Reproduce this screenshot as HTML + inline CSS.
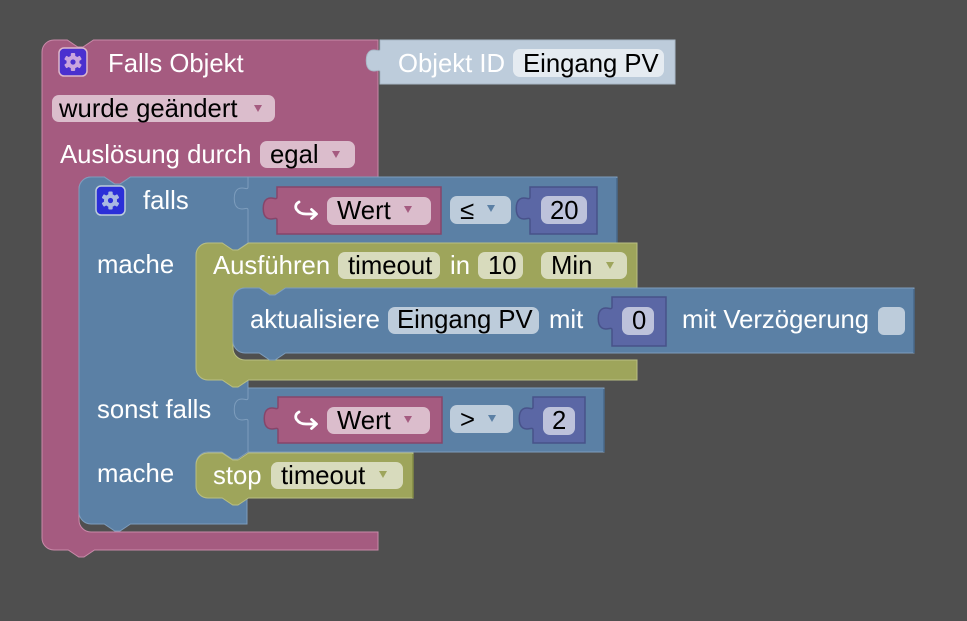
<!DOCTYPE html>
<html>
<head>
<meta charset="utf-8">
<style>
  html,body{margin:0;padding:0;background:#4f4f4f;}
  svg{display:block;}
  text{font-family:"Liberation Sans",Arial,sans-serif;font-size:25.7px;}
  .w{fill:#fff;}
  .b{fill:#000;}
</style>
</head>
<body>
<svg width="967" height="621" viewBox="0 0 967 621" xmlns="http://www.w3.org/2000/svg">
  <rect x="0" y="0" width="967" height="621" fill="#4f4f4f"/>

  <!-- Pink trigger C-block -->
  <path d="M42,52 A12,12 0 0 1 54,40 H67.25 l10.5,7 h5.25 l10.5,-7 H378 V177 H130.5 l-10.5,7 h-5.25 l-10.5,-7 H91 A12,12 0 0 0 79,189 V520 A12,12 0 0 0 91,532 H378 V550 H94.5 l-10.5,7 h-5.25 l-10.5,-7 H54 A12,12 0 0 1 42,538 Z"
        fill="#a55b80" stroke="#c98aa9" stroke-width="1"/>

  <!-- Objekt ID block -->
  <path d="M675,40 H380 V49 c0,4 -5,-1 -10,2 c-5,3 -5,16 0,19 c5,3 10,-2 10,2 V84 H675 Z"
        fill="#bdccdb" stroke="#a9b8c7" stroke-width="1"/>
  <rect x="513" y="49" width="151" height="28" rx="7" fill="#e5ebf1"/>
  <text x="398" y="72" class="w">Objekt ID</text>
  <text x="523" y="72" class="b">Eingang PV</text>

  <!-- Pink header content -->
  <rect x="59" y="48" width="28" height="28" rx="5" fill="#4a30cf" stroke="#dcb8cb" stroke-width="1.5"/>
  <g transform="translate(73,62)" fill="#c9a4de">
    <circle r="6.5"/>
    <rect x="-2.2" y="-9" width="4.4" height="18" rx="1"/>
    <rect x="-2.2" y="-9" width="4.4" height="18" rx="1" transform="rotate(60)"/>
    <rect x="-2.2" y="-9" width="4.4" height="18" rx="1" transform="rotate(120)"/>
    <circle r="2.6" fill="#4a30cf"/>
  </g>
  <text x="108" y="72" class="w">Falls Objekt</text>

  <rect x="52" y="95" width="223" height="27" rx="7" fill="#dbbdcc"/>
  <text x="59" y="117" class="b">wurde geändert</text>
  <polygon points="254,105 262,105 258,112" fill="#a55b80"/>

  <text x="60" y="163" class="w">Auslösung durch</text>
  <rect x="260" y="141" width="95" height="27" rx="7" fill="#dbbdcc"/>
  <text x="270" y="163" class="b">egal</text>
  <polygon points="332,151 340,151 336,158" fill="#a55b80"/>

  <!-- Blue falls / sonst falls block -->
  <path d="M79,189 A12,12 0 0 1 91,177 H104.25 l10.5,7 h5.25 l10.5,-7 H248 V243 l-10.5,7 h-5.25 l-10.5,-7 H208 A12,12 0 0 0 196,255 V368 A12,12 0 0 0 208,380 H248 V452 l-10.5,7 h-5.25 l-10.5,-7 H208 A12,12 0 0 0 196,464 V486 A12,12 0 0 0 208,498 H247 V524 H130.5 l-10.5,7 h-5.25 l-10.5,-7 H91 A12,12 0 0 1 79,512 Z"
        fill="#5b80a5" stroke="#7e9dbd" stroke-width="1"/>

  <rect x="96" y="186" width="29" height="29" rx="5" fill="#2b2fd8" stroke="#bdccdb" stroke-width="1.5"/>
  <g transform="translate(110.5,200.5)" fill="#a9b9e2">
    <circle r="6.5"/>
    <rect x="-2.2" y="-9" width="4.4" height="18" rx="1"/>
    <rect x="-2.2" y="-9" width="4.4" height="18" rx="1" transform="rotate(60)"/>
    <rect x="-2.2" y="-9" width="4.4" height="18" rx="1" transform="rotate(120)"/>
    <circle r="2.6" fill="#2b2fd8"/>
  </g>
  <text x="143" y="209" class="w">falls</text>
  <text x="97" y="273" class="w">mache</text>
  <text x="97" y="418" class="w">sonst falls</text>
  <text x="97" y="482" class="w">mache</text>

  <!-- Compare block 1 -->
  <path d="M617,177 H248 V187 c0,4 -5,-1 -10,2 c-5,3 -5,16 0,19 c5,3 10,-2 10,2 V243 H617 Z"
        fill="#5b80a5" stroke="#7e9dbd" stroke-width="1"/>
  <line x1="617" y1="178" x2="617" y2="243" stroke="#48698a" stroke-width="1.5"/>
  <!-- Wert block 1 -->
  <path d="M441,187 H277 V197 c0,4 -5,-1 -10,2 c-5,3 -5,16 0,19 c5,3 10,-2 10,2 V234 H441 Z"
        fill="#a55b80" stroke="#86456a" stroke-width="1.5"/>
  <path d="M299,202 C295,204 295,208 297,210 C299,213 302,214 306,214 H316" fill="none" stroke="#fff" stroke-width="2.8" stroke-linecap="round"/>
  <path d="M311.5,209.5 L316.5,214 L311.5,218.5" fill="none" stroke="#fff" stroke-width="2.8" stroke-linecap="round" stroke-linejoin="round"/>
  <rect x="327" y="197" width="104" height="28" rx="7" fill="#dbbdcc"/>
  <text x="337" y="219" class="b">Wert</text>
  <polygon points="404,206 412,206 408,213" fill="#a55b80"/>
  <!-- ≤ -->
  <rect x="450" y="196" width="61" height="28" rx="7" fill="#bdccdb"/>
  <text x="460" y="219" class="b">≤</text>
  <polygon points="487,205 495,205 491,212" fill="#5b80a5"/>
  <!-- 20 -->
  <path d="M597,187 H530 V197 c0,4 -5,-1 -10,2 c-5,3 -5,16 0,19 c5,3 10,-2 10,2 V234 H597 Z"
        fill="#5b67a5" stroke="#48528a" stroke-width="1.5"/>
  <rect x="541" y="196" width="46" height="28" rx="7" fill="#bdc2db"/>
  <text x="550" y="219" class="b">20</text>

  <!-- Green Ausführen block -->
  <path d="M196,255 A12,12 0 0 1 208,243 H222.25 l10.5,7 h5.25 l10.5,-7 H637 V288 H285.5 l-10.5,7 h-5.25 l-10.5,-7 H245 A12,12 0 0 0 233,300 V348 A12,12 0 0 0 245,360 H637 V380 H248.5 l-10.5,7 h-5.25 l-10.5,-7 H208 A12,12 0 0 1 196,368 Z"
        fill="#9ea55b" stroke="#b9bf83" stroke-width="1"/>
  <text x="213" y="274" class="w">Ausführen</text>
  <rect x="338" y="252" width="102" height="27" rx="7" fill="#d8dbbd"/>
  <text x="348" y="274" class="b">timeout</text>
  <text x="450" y="274" class="w">in</text>
  <rect x="478" y="252" width="45" height="27" rx="7" fill="#d8dbbd"/>
  <text x="488" y="274" class="b">10</text>
  <rect x="541" y="252" width="86" height="27" rx="7" fill="#d8dbbd"/>
  <text x="551" y="274" class="b">Min</text>
  <polygon points="606,262 614,262 610,269" fill="#9ea55b"/>

  <!-- Blue aktualisiere block -->
  <path d="M233,300 A12,12 0 0 1 245,288 H259.25 l10.5,7 h5.25 l10.5,-7 H914 V353 H285.5 l-10.5,7 h-5.25 l-10.5,-7 H245 A12,12 0 0 1 233,341 Z"
        fill="#5b80a5" stroke="#7e9dbd" stroke-width="1"/>
  <line x1="914" y1="289" x2="914" y2="353" stroke="#48698a" stroke-width="1.5"/>
  <text x="250" y="328" class="w">aktualisiere</text>
  <rect x="388" y="307" width="151" height="27" rx="7" fill="#bdccdb"/>
  <text x="397" y="328" class="b">Eingang PV</text>
  <text x="549" y="328" class="w">mit</text>
  <path d="M666,297 H612 V307 c0,4 -5,-1 -10,2 c-5,3 -5,16 0,19 c5,3 10,-2 10,2 V346 H666 Z"
        fill="#5b67a5" stroke="#48528a" stroke-width="1.5"/>
  <rect x="622" y="307" width="32" height="28" rx="7" fill="#bdc2db"/>
  <text x="632" y="329" class="b">0</text>
  <text x="682" y="328" class="w">mit Verzögerung</text>
  <rect x="878" y="307" width="27" height="28" rx="6" fill="#bdccdb"/>

  <!-- Compare block 2 -->
  <path d="M604,388 H248 V398 c0,4 -5,-1 -10,2 c-5,3 -5,16 0,19 c5,3 10,-2 10,2 V452 H604 Z"
        fill="#5b80a5" stroke="#7e9dbd" stroke-width="1"/>
  <line x1="604" y1="389" x2="604" y2="452" stroke="#48698a" stroke-width="1.5"/>
  <path d="M442,397 H278 V407 c0,4 -5,-1 -10,2 c-5,3 -5,16 0,19 c5,3 10,-2 10,2 V443 H442 Z"
        fill="#a55b80" stroke="#86456a" stroke-width="1.5"/>
  <path d="M299,412 C295,414 295,418 297,420 C299,423 302,424 306,424 H316" fill="none" stroke="#fff" stroke-width="2.8" stroke-linecap="round"/>
  <path d="M311.5,419.5 L316.5,424 L311.5,428.5" fill="none" stroke="#fff" stroke-width="2.8" stroke-linecap="round" stroke-linejoin="round"/>
  <rect x="327" y="407" width="103" height="27" rx="7" fill="#dbbdcc"/>
  <text x="337" y="429" class="b">Wert</text>
  <polygon points="404,416 412,416 408,423" fill="#a55b80"/>
  <rect x="450" y="405" width="63" height="28" rx="7" fill="#bdccdb"/>
  <text x="460" y="428" class="b">&gt;</text>
  <polygon points="488,415 496,415 492,422" fill="#5b80a5"/>
  <path d="M585,397 H533 V407 c0,4 -5,-1 -10,2 c-5,3 -5,16 0,19 c5,3 10,-2 10,2 V443 H585 Z"
        fill="#5b67a5" stroke="#48528a" stroke-width="1.5"/>
  <rect x="543" y="407" width="32" height="28" rx="7" fill="#bdc2db"/>
  <text x="552" y="429" class="b">2</text>

  <!-- Stop block -->
  <path d="M196,465 A12,12 0 0 1 208,453 H222.25 l10.5,7 h5.25 l10.5,-7 H413 V498 H248.5 l-10.5,7 h-5.25 l-10.5,-7 H208 A12,12 0 0 1 196,486 Z"
        fill="#9ea55b" stroke="#b9bf83" stroke-width="1"/>
  <line x1="413" y1="454" x2="413" y2="498" stroke="#828a45" stroke-width="1.5"/>
  <text x="213" y="484" class="w">stop</text>
  <rect x="271" y="462" width="132" height="27" rx="7" fill="#d8dbbd"/>
  <text x="281" y="484" class="b">timeout</text>
  <polygon points="379,471 387,471 383,478" fill="#9ea55b"/>
</svg>
</body>
</html>
